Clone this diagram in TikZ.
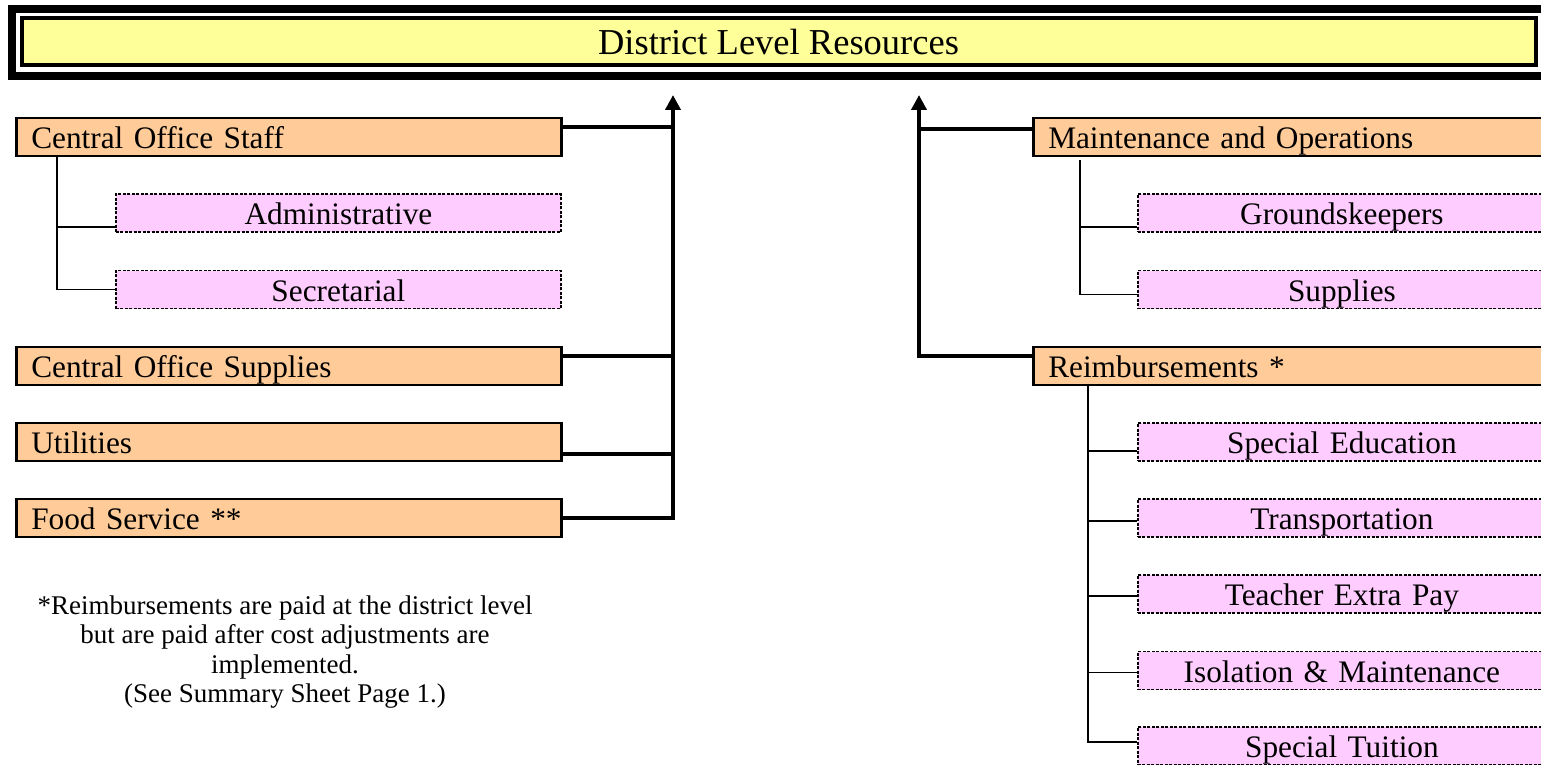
\documentclass[tikz,border=0pt]{standalone}
\usepackage{fontspec}
\setmainfont{Liberation Serif}
\usetikzlibrary{arrows.meta}
\definecolor{headfill}{HTML}{FFFF99}
\definecolor{unitfill}{HTML}{FFCC99}
\definecolor{subfill}{HTML}{FFCCFF}
\begin{document}
\begin{tikzpicture}[x=1pt, y=-1pt]
	\tikzstyle{header} = [draw=black, line width=4pt, fill=headfill, minimum width=1514pt, minimum height=47pt, text height=26pt, text depth=0pt, font=\fontsize{36.5}{40}\selectfont]
	\tikzstyle{unit}   = [draw=black, line width=2.5pt, fill=unitfill, anchor=west, inner xsep=15pt, inner ysep=0pt, minimum height=38pt, align=left, text height=26pt, text depth=3pt, font=\fontsize{31.3}{36}\selectfont]
	\tikzstyle{sub}    = [draw=black, line width=1.8pt, dash pattern=on 3pt off 1.5pt, fill=subfill, anchor=west, inner xsep=5pt, inner ysep=0pt, minimum height=38pt, align=center, text height=26pt, text depth=3pt, font=\fontsize{31.3}{36}\selectfont]
	\tikzstyle{feed}   = [line width=4pt]
	\tikzstyle{branch} = [line width=1.5pt]
	\tikzstyle{tip}    = [-{Triangle[length=15pt, width=15pt]}]

	\useasboundingbox (0,0) rectangle (1541,765);

	% header
	\draw[line width=8pt] (11.5,9) rectangle (1580,76);
	\node[header] (head) at (778.5,42) {District Level Resources};

	% left column
	\foreach \name/\y/\label in {staff/137/Central Office Staff, osupplies/366/Central Office Supplies, utilities/442/Utilities, food/518/Food Service **}
		\node[unit, text width=515pt] (\name) at (15,\y) {\label};

	\foreach \name/\y/\label in {admin/213/Administrative, secretarial/289.5/Secretarial}
		\node[sub, text width=435pt] (\name) at (115,\y) {\label};

	% right column
	\foreach \name/\y/\label in {maint/137/Maintenance and Operations, reimb/366/Reimbursements *}
		\node[unit, text width=485pt] (\name) at (1032,\y) {\label};

	\foreach \name/\y/\label in {grounds/213/Groundskeepers, msupplies/289.5/Supplies, sped/442/Special Education, transport/518/Transportation, extrapay/594/Teacher Extra Pay, isolation/670.5/Isolation \& Maintenance, tuition/746/Special Tuition}
		\node[sub, text width=398pt] (\name) at (1137,\y) {\label};

	% spines
	\coordinate (ltop) at (673,95);
	\coordinate (rtop) at (919,95);

	\draw[feed, tip] (food.east) -| (ltop);
	\foreach \name/\dy in {staff/10, osupplies/10, utilities/-12}
		\draw[feed] ([yshift=\dy pt]\name.east) -- ([yshift=\dy pt]\name.east -| ltop);

	\draw[feed, tip] ([yshift=10pt]reimb.west) -| (rtop);
	\draw[feed] ([yshift=8pt]maint.west) -- ([yshift=8pt]maint.west -| rtop);

	% branches
	\coordinate (staffroot) at ([xshift=42pt]staff.south west);
	\draw[branch] (staffroot) |- (secretarial.west);
	\draw[branch] ([yshift=-14pt]admin.west) -- ([yshift=-14pt]admin.west -| staffroot);

	\coordinate (maintroot) at ([xshift=48pt, yshift=-3pt]maint.south west);
	\draw[branch] (maintroot) |- ([yshift=-5pt]msupplies.west);
	\draw[branch] ([yshift=-14pt]grounds.west) -- ([yshift=-14pt]grounds.west -| maintroot);

	\coordinate (reimbroot) at ([xshift=56pt]reimb.south west);
	\draw[branch] (reimbroot) |- ([yshift=4pt]tuition.west);
	\foreach \name/\dy in {sped/-9, transport/-3, extrapay/-2, isolation/-2}
		\draw[branch] ([yshift=\dy pt]\name.west) -- ([yshift=\dy pt]\name.west -| reimbroot);

	% footnote
	\node[align=center, font=\fontsize{27}{29.5}\selectfont] (note) at (285,652) {*Reimbursements are paid at the district level\\but are paid after cost adjustments are\\implemented.\\(See Summary Sheet Page 1.)};
\end{tikzpicture}
\end{document}
